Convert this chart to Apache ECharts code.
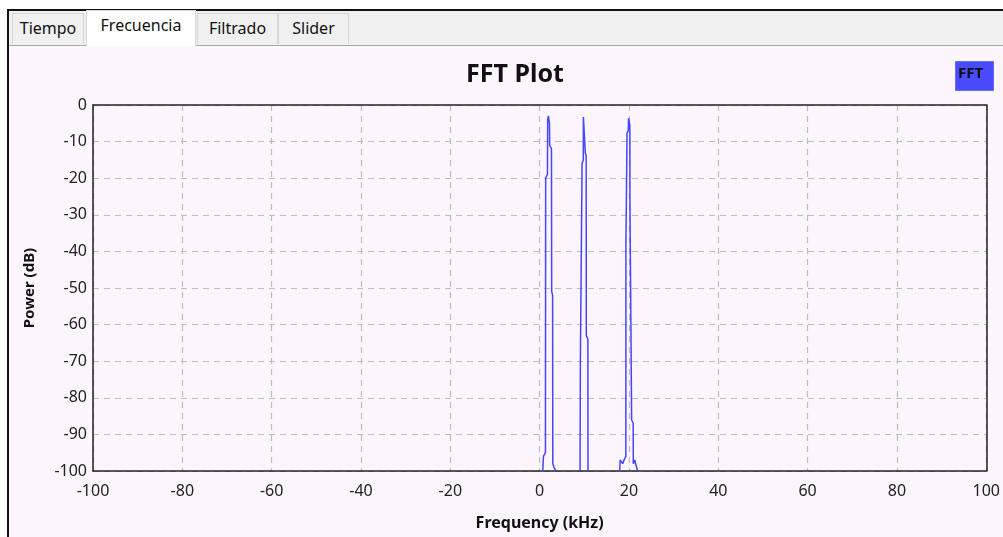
<!DOCTYPE html>
<html>
<head>
<meta charset="utf-8">
<script src="https://cdn.jsdelivr.net/npm/echarts@6/dist/echarts.min.js"></script>
<style>
  html, body { margin:0; padding:0; width:1003px; height:537px; overflow:hidden; background:#ffffff; font-family:"Noto Sans", "Open Sans", sans-serif; }
  #frame { position:absolute; left:9px; top:10px; width:994px; height:527px; background:#fcf5fc; }
  #borderL { position:absolute; left:7px; top:9px; width:2px; height:528px; background:#111; }
  #borderT { position:absolute; left:7px; top:9px; width:996px; height:2px; background:#111; }
  #strip { position:absolute; left:9px; top:11px; width:994px; height:34px; background:#f0f0f0; border-bottom:1px solid #a8a8a8; }
  .tab { position:absolute; top:13px; height:31px; background:#f0f0f0; border:1px solid #d6d6d6; border-bottom:none; box-sizing:border-box; font-size:16px; color:#111; line-height:29px; text-align:center; }
  .tab.sel { top:10px; height:36px; background:#ffffff; border-color:#d6d6d6; line-height:28px; z-index:2; }
  #chart { position:absolute; left:0; top:0; width:1003px; height:537px; }
</style>
</head>
<body>
<div id="frame"></div>
<div id="strip"></div>
<div class="tab" style="left:12px;width:72px;">Tiempo</div>
<div class="tab sel" style="left:86px;width:110px;">Frecuencia</div>
<div class="tab" style="left:197px;width:81px;">Filtrado</div>
<div class="tab" style="left:278px;width:71px;">Slider</div>
<div id="borderL"></div>
<div id="borderT"></div>
<div id="chart"></div>
<script>
// ---- data ----
var seriesName = "FFT";
// frequency (kHz) of each sample; segments between peaks sit on the -100 dB floor
var freqKHz = [
  0.70, 0.85, 1.30, 1.35, 1.75, 1.80, 1.95, 2.10, 2.20, 2.25, 2.65, 2.70, 2.90, 2.95, 3.20, 3.50, 3.70,
  6.00,
  9.05, 9.12, 9.50, 9.78, 9.80, 9.95, 10.20, 10.22, 10.42, 10.45, 10.80, 10.83,
  15.00,
  17.90, 18.05, 18.30, 18.60, 18.90, 19.30, 19.32, 19.55, 19.57, 19.85, 19.90, 20.00, 20.20, 20.22, 20.58, 20.60, 20.95, 20.97, 21.30, 21.60, 21.95
];
// power (dB); null = on the floor, hidden by the axis line
var powerDb = [
  -100, -96, -95, -20, -19, -4, -3, -3.5, -5, -11, -12, -51, -52, -98, -99, -98.5, -100,
  null,
  -100, -70, -16, -15, -3.3, -3, -3.5, -13, -14, -63, -64, -100,
  null,
  -100, -97, -96.5, -98, -97, -96, -38, -37.5, -7.7, -7, -3.6, -3.8, -5.5, -26.5, -27, -86, -87, -98, -97, -98.5, -100
];
var xTicks = [-100, -80, -60, -40, -20, 0, 20, 40, 60, 80, 100];
var yTicks = [0, -10, -20, -30, -40, -50, -60, -70, -80, -90, -100];

var points = freqKHz.map(function (f, i) { return [f, powerDb[i]]; });

var chart = echarts.init(document.getElementById('chart'), null, { width: 1003, height: 537 });
var labelFont = '"Noto Sans", "Open Sans", sans-serif';
var gridLine = { show: true, lineStyle: { color: '#bdbdbd', type: [6, 5], width: 1.2 } };
chart.setOption({
  backgroundColor: 'transparent',
  animation: false,
  title: {
    text: 'FFT Plot', left: 510, top: 57, textAlign: 'center',
    textStyle: { fontSize: 25, fontWeight: 'bold', color: '#111', fontFamily: labelFont }
  },
  graphic: [
    { type: 'rect', left: 955, top: 61, z: 20, shape: { width: 38, height: 29 }, style: { fill: '#4a4aff', stroke: '#6a6aff', lineWidth: 1 } },
    { type: 'text', left: 958, top: 66, z: 21, style: { text: seriesName, fill: '#111', font: 'bold 15px "Noto Sans", sans-serif' } }
  ],
  grid: { left: 93, top: 105, width: 900, height: 366, show: false },
  xAxis: [{
    type: 'value', min: -100, max: 100, interval: 20,
    name: 'Frequency (kHz)', nameLocation: 'middle', nameGap: 44,
    nameTextStyle: { fontSize: 16, fontWeight: 'bold', color: '#111', fontFamily: labelFont },
    axisLine: { show: true, onZero: false, lineStyle: { color: '#222', width: 1.5 } },
    axisTick: { show: false },
    axisLabel: { fontSize: 16, color: '#222', margin: 12, fontFamily: labelFont,
      formatter: function (v) { return xTicks.indexOf(v) >= 0 ? String(v) : ''; } },
    splitLine: gridLine
  }, {
    type: 'value', position: 'top', min: -100, max: 100, interval: 20,
    axisLine: { show: true, onZero: false, lineStyle: { color: '#222', width: 1.5 } },
    axisTick: { show: false }, axisLabel: { show: false }, splitLine: { show: false }
  }],
  yAxis: [{
    type: 'value', min: -100, max: 0, interval: 10,
    name: 'Power (dB)', nameLocation: 'middle', nameGap: 56, nameRotate: 90,
    nameTextStyle: { fontSize: 15, fontWeight: 'bold', color: '#111', fontFamily: labelFont },
    axisLine: { show: true, onZero: false, lineStyle: { color: '#222', width: 1.5 } },
    axisTick: { show: false },
    axisLabel: { fontSize: 16, color: '#222', margin: 6, fontFamily: labelFont,
      formatter: function (v) { return yTicks.indexOf(v) >= 0 ? String(v) : ''; } },
    splitLine: gridLine
  }, {
    type: 'value', position: 'right', min: -100, max: 0, interval: 10,
    axisLine: { show: true, onZero: false, lineStyle: { color: '#222', width: 1.5 } },
    axisTick: { show: false }, axisLabel: { show: false }, splitLine: { show: false }
  }],
  series: [{
    name: seriesName, type: 'line', data: points, showSymbol: false, symbol: 'none',
    connectNulls: false, lineStyle: { color: '#4545ff', width: 1.5 }, clip: true
  }]
});
</script>
</body>
</html>
